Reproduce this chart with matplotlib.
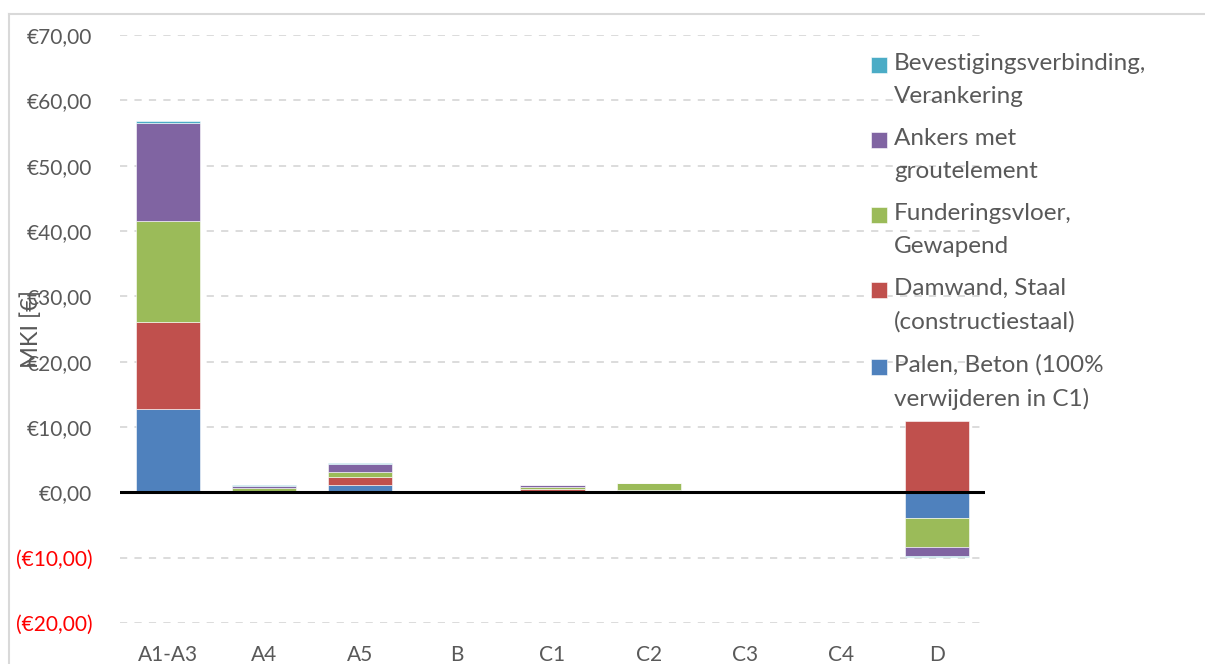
import matplotlib as mpl
import matplotlib.pyplot as plt
import numpy as np
from matplotlib.container import BarContainer
from matplotlib.legend_handler import HandlerPatch, update_from_first_child
from matplotlib.lines import Line2D
from matplotlib.patches import Rectangle
from matplotlib.ticker import FuncFormatter, MultipleLocator

mpl.rcParams["font.family"] = ["Lato", "DejaVu Sans"]

categories = ["A1-A3", "A4", "A5", "B", "C1", "C2", "C3", "C4", "D"]

palen = [12.7, 0.05, 1.1, 0.0, 0.1, 0.35, 0.05, 0.0, -3.9]
damwand = [13.4, 0.2, 1.2, 0.0, 0.35, 0.05, 0.0, 0.0, 10.9]
fundering = [15.5, 0.45, 0.8, 0.0, 0.3, 1.0, 0.2, 0.0, -4.4]
ankers = [15.0, 0.25, 1.3, 0.0, 0.35, 0.0, 0.0, 0.0, -1.4]
bevestiging = [0.2, 0.1, 0.1, 0.0, 0.05, 0.07, 0.0, 0.0, -0.15]

series = [
    ("Palen, Beton (100%\nverwijderen in C1)", palen, "#4F81BD"),
    ("Damwand, Staal\n(constructiestaal)", damwand, "#C0504D"),
    ("Funderingsvloer,\nGewapend", fundering, "#9BBB59"),
    ("Ankers met\ngroutelement", ankers, "#8064A2"),
    ("Bevestigingsverbinding,\nVerankering", bevestiging, "#4BACC6"),
]

text_color = "#595959"

fig = plt.figure(figsize=(12.05, 6.64), dpi=100)
ax = fig.add_axes([120 / 1205, 1 - 623 / 664, 865 / 1205, (623 - 35) / 664])

x = np.arange(len(categories))
pos_bottom = np.zeros(len(categories))
neg_bottom = np.zeros(len(categories))
for label, vals, color in series:
    vals = np.array(vals)
    bottom = np.where(vals >= 0, pos_bottom, neg_bottom)
    ax.bar(x, vals, 0.667, bottom=bottom, color=color, label=label,
           edgecolor="white", linewidth=0.4, zorder=3)
    pos_bottom += np.where(vals >= 0, vals, 0)
    neg_bottom += np.where(vals < 0, vals, 0)

ax.set_xlim(-0.5, len(categories) - 0.5)
ax.set_ylim(-20, 70)
ax.yaxis.set_major_locator(MultipleLocator(10))


def euro(v, pos):
    s = "€{:.2f}".format(abs(v)).replace(".", ",")
    return "({})".format(s) if v < 0 else s


ax.yaxis.set_major_formatter(FuncFormatter(euro))
ax.grid(axis="y", color="#d9d9d9", linestyle=(0, (4, 4)), linewidth=1.3, zorder=0)
ax.axhline(0, color="black", linewidth=2.2, zorder=4)

for side in ["top", "right", "bottom", "left"]:
    ax.spines[side].set_visible(False)

ax.set_xticks(x)
ax.set_xticklabels(categories)
ax.tick_params(axis="both", length=0, labelsize=15, colors=text_color)
ax.tick_params(axis="y", pad=20)
ax.tick_params(axis="x", pad=16)
for t, v in zip(ax.get_yticklabels(), ax.get_yticks()):
    if v < 0:
        t.set_color("#FF0000")

ax.set_ylabel("MKI [€]", fontsize=17, color=text_color)
ax.yaxis.set_label_coords(-0.09, 0.5)


# legend square sits beside the first line of a two-line label
def first_line_square(legend, orig_handle, xdescent, ydescent, width, height, fontsize):
    return Rectangle((-xdescent, -ydescent + 11), width, height)


handles, labels = ax.get_legend_handles_labels()
leg = fig.legend(handles[::-1], labels[::-1], loc="upper left",
                 bbox_to_anchor=(871 / 1205, 1 - 53 / 664), frameon=False,
                 fontsize=17.5, labelcolor=text_color, handlelength=0.65,
                 handleheight=0.65, handletextpad=0.3, labelspacing=0.87,
                 borderpad=0, borderaxespad=0,
                 handler_map={BarContainer: HandlerPatch(
                     patch_func=first_line_square,
                     update_func=update_from_first_child)})
for t in leg.get_texts():
    t.set_linespacing(1.7)

# light chart border
fig.add_artist(Line2D([9 / 1205, 1], [1 - 14 / 664, 1 - 14 / 664],
                      color="#d9d9d9", linewidth=1.5))
fig.add_artist(Line2D([9 / 1205, 9 / 1205], [0, 1 - 14 / 664],
                      color="#d9d9d9", linewidth=1.5))

fig.savefig("out.png", dpi=100)
plt.close(fig)
